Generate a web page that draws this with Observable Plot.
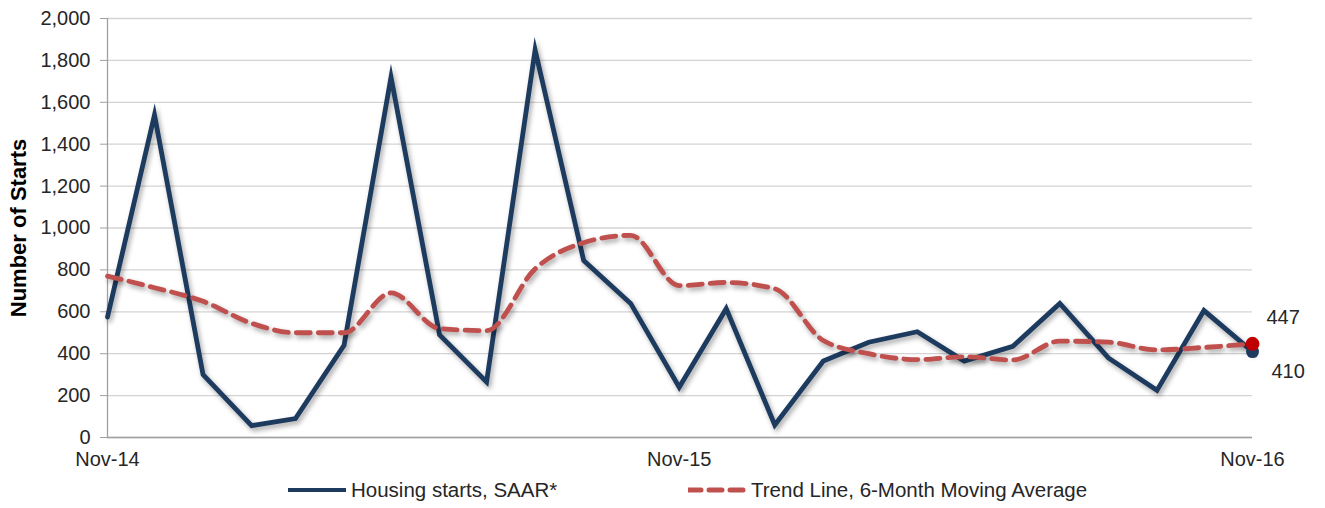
<!DOCTYPE html>
<html>
<head>
<meta charset="utf-8">
<script src="https://cdn.jsdelivr.net/npm/d3@7"></script>
<script src="https://cdn.jsdelivr.net/npm/@observablehq/plot@0.6"></script>
<style>
  body { margin: 0; background: #fff; font-family: "Liberation Sans", Arial, sans-serif; }
  #chart svg g[aria-label="line"] path { filter: drop-shadow(2px 3px 2.5px rgba(0,0,0,0.35)); }
  #legend { position: relative; height: 33px; width: 1325px; font-size: 20.5px; color: #262626; }
  .item { position: absolute; top: 0; display: flex; align-items: center; height: 30px; }
  .item svg { margin-right: 5px; }
</style>
</head>
<body>
<div id="chart"></div>
<div id="legend"></div>
<script>
// ---- data ----
const months = ["2014-11","2014-12","2015-01","2015-02","2015-03","2015-04","2015-05","2015-06","2015-07","2015-08","2015-09","2015-10","2015-11","2015-12","2016-01","2016-02","2016-03","2016-04","2016-05","2016-06","2016-07","2016-08","2016-09","2016-10","2016-11"];
const housingStarts = [575,1540,300,57,90,440,1720,490,265,1850,845,640,240,615,60,365,455,505,365,435,640,380,225,606,410];
const trendLine = [770,715,650,545,500,500,690,520,510,805,930,965,725,740,710,463,400,372,385,370,460,455,418,430,447];
const xTicks = ["2014-11","2015-11","2016-11"];
const yTicks = [0,200,400,600,800,1000,1200,1400,1600,1800,2000];
const seriesNames = ["Housing starts, SAAR*","Trend Line, 6-Month Moving Average"];

const NAVY = "#1d3a5f";
const RED = "#c0504d";

const parse = d3.utcParse("%Y-%m");
const rows = months.map((m, i) => ({date: parse(m), starts: housingStarts[i], trend: trendLine[i]}));
const last = rows[rows.length - 1];

const chart = Plot.plot({
  width: 1325,
  height: 475,
  marginLeft: 107,
  marginRight: 73,
  marginTop: 18,
  marginBottom: 38,
  style: {fontFamily: "'Liberation Sans', Arial, sans-serif", fontSize: "20px", color: "#262626", background: "#fff", overflow: "visible"},
  x: {type: "utc", domain: [rows[0].date, last.date]},
  y: {domain: [0, 2000]},
  marks: [
    Plot.gridY(yTicks, {stroke: "#d4d4d4", strokeOpacity: 1, strokeWidth: 1.3}),
    Plot.axisY(yTicks, {tickFormat: d3.format(","), tickSize: 7, tickPadding: 10, stroke: "#a0a0a0",
      label: "Number of Starts", labelAnchor: "center", labelArrow: "none", labelOffset: 97}),
    Plot.axisX(xTicks.map(parse), {tickFormat: d3.utcFormat("%b-%y"), tickSize: 0, tickPadding: 14, label: null}),
    Plot.ruleX([rows[0].date], {stroke: "#a0a0a0", strokeWidth: 1.3}),
    Plot.ruleY([0], {stroke: "#a0a0a0", strokeWidth: 1.3}),
    Plot.line(rows, {x: "date", y: "starts", stroke: NAVY, strokeWidth: 4.8, strokeLinejoin: "miter", strokeMiterlimit: 10}),
    Plot.line(rows, {x: "date", y: "trend", stroke: RED, strokeWidth: 4.8, strokeDasharray: "14,8", curve: "monotone-x"}),
    Plot.dot([last], {x: "date", y: "starts", r: 6.5, fill: NAVY}),
    Plot.dot([last], {x: "date", y: "trend", r: 7, fill: "#c00000"}),
    Plot.text([last], {x: "date", y: "trend", text: d => String(d.trend), dx: 14, dy: -26, textAnchor: "start", fontSize: 20, fill: "#262626"}),
    Plot.text([last], {x: "date", y: "starts", text: d => String(d.starts), dx: 19, dy: 20, textAnchor: "start", fontSize: 20, fill: "#262626"})
  ]
});
// style the y-axis label bold
d3.select(chart).selectAll('g[aria-label="y-axis label"] text').style("font-weight", "bold").style("font-size", "22px").style("fill", "#000");
document.getElementById("chart").append(chart);

// ---- legend ----
const legend = d3.select("#legend");
const items = [
  {name: seriesNames[0], left: 288, color: NAVY, dash: null},
  {name: seriesNames[1], left: 688, color: RED, dash: "13,8"}
];
items.forEach(it => {
  const div = legend.append("div").attr("class", "item").style("left", it.left + "px");
  const s = div.append("svg").attr("width", 58).attr("height", 10);
  s.append("line").attr("x1", 0).attr("x2", 58).attr("y1", 5).attr("y2", 5)
    .attr("stroke", it.color).attr("stroke-width", it.dash ? 5 : 4)
    .attr("stroke-dasharray", it.dash).attr("stroke-linecap", it.dash ? "round" : "butt");
  div.append("span").text(it.name);
});
</script>
</body>
</html>
